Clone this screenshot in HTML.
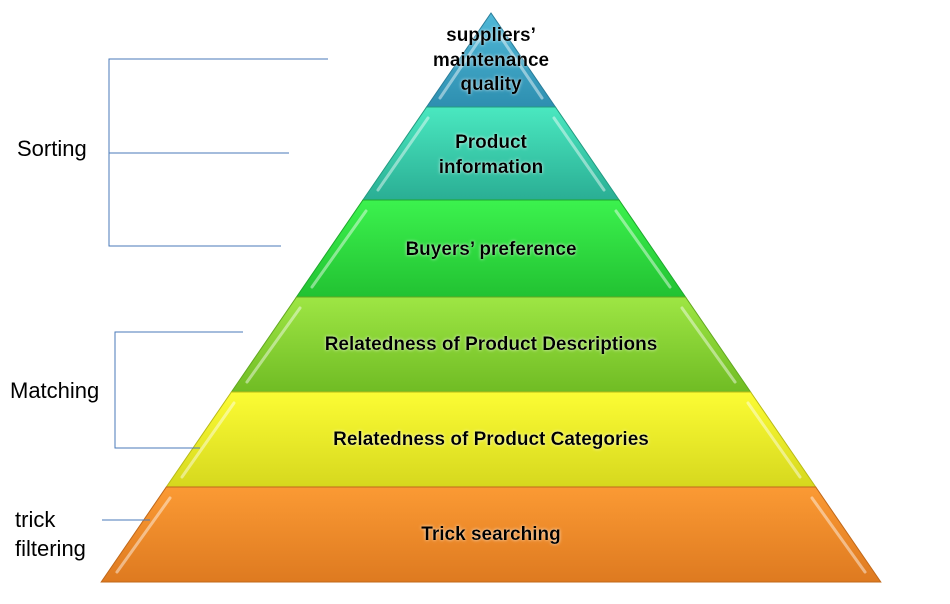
<!DOCTYPE html>
<html><head><style>
body{margin:0;background:#fff;width:950px;height:599px;overflow:hidden}
</style></head><body>
<svg width="950" height="599" xmlns="http://www.w3.org/2000/svg" font-family="Liberation Sans, sans-serif">
<defs>
<linearGradient id="g1" x1="0" y1="0" x2="0" y2="1"><stop offset="0" stop-color="#4fb8d8"/><stop offset="1" stop-color="#2e8fb0"/></linearGradient>
<linearGradient id="g2" x1="0" y1="0" x2="0" y2="1"><stop offset="0" stop-color="#4ae8c0"/><stop offset="1" stop-color="#2aae94"/></linearGradient>
<linearGradient id="g3" x1="0" y1="0" x2="0" y2="1"><stop offset="0" stop-color="#3cf24e"/><stop offset="1" stop-color="#22c232"/></linearGradient>
<linearGradient id="g4" x1="0" y1="0" x2="0" y2="1"><stop offset="0" stop-color="#9ee644"/><stop offset="1" stop-color="#70bc24"/></linearGradient>
<linearGradient id="g5" x1="0" y1="0" x2="0" y2="1"><stop offset="0" stop-color="#fcfc34"/><stop offset="1" stop-color="#d6d81e"/></linearGradient>
<linearGradient id="g6" x1="0" y1="0" x2="0" y2="1"><stop offset="0" stop-color="#fb9a34"/><stop offset="1" stop-color="#de7a20"/></linearGradient>
<filter id="glow"><feGaussianBlur stdDeviation="1.5" in="SourceAlpha" result="b"/><feFlood flood-color="#fff" flood-opacity="0.8"/><feComposite in2="b" operator="in"/><feMerge><feMergeNode/><feMergeNode in="SourceGraphic"/></feMerge></filter>
</defs>
<polygon points="491,13 555.4,107 426.6,107" fill="url(#g1)" stroke="#2a7d99" stroke-width="1"/>
<polygon points="426.6,107 555.4,107 619.1,200 362.9,200" fill="url(#g2)" stroke="#239a80" stroke-width="1"/>
<polygon points="362.9,200 619.1,200 685.5,297 296.5,297" fill="url(#g3)" stroke="#1ea82c" stroke-width="1"/>
<polygon points="296.5,297 685.5,297 750.6,392 231.4,392" fill="url(#g4)" stroke="#62a820" stroke-width="1"/>
<polygon points="231.4,392 750.6,392 815.7,487 166.3,487" fill="url(#g5)" stroke="#b8ba18" stroke-width="1"/>
<polygon points="166.3,487 815.7,487 880.8,582 101.2,582" fill="url(#g6)" stroke="#c0681a" stroke-width="1"/>
<g stroke="#fff" stroke-opacity="0.45" stroke-width="3" stroke-linecap="round">
<line x1="440" y1="98" x2="482" y2="36"/><line x1="378" y1="190" x2="428" y2="118"/><line x1="312" y1="287" x2="366" y2="211"/>
<line x1="247" y1="382" x2="300" y2="308"/><line x1="182" y1="477" x2="234" y2="403"/><line x1="117" y1="572" x2="170" y2="498"/>
<line x1="542" y1="98" x2="500" y2="36"/><line x1="604" y1="190" x2="554" y2="118"/><line x1="670" y1="287" x2="616" y2="211"/>
<line x1="735" y1="382" x2="682" y2="308"/><line x1="800" y1="477" x2="748" y2="403"/><line x1="865" y1="572" x2="812" y2="498"/>
</g>
<g font-weight="bold" font-size="19" text-anchor="middle" fill="#000" filter="url(#glow)">
<text x="491" y="41">suppliers’</text><text x="491" y="66">maintenance</text><text x="491" y="90">quality</text>
<text x="491" y="148">Product</text><text x="491" y="173">information</text>
<text x="491" y="255">Buyers’ preference</text>
<text x="491" y="350">Relatedness of Product Descriptions</text>
<text x="491" y="445">Relatedness of Product Categories</text>
<text x="491" y="540">Trick searching</text>
</g>
<g stroke="#4a7ab8" stroke-width="1" fill="none">
<polyline points="328,59 109,59 109,246 281,246"/><line x1="109" y1="153" x2="289" y2="153"/>
<polyline points="243,332 115,332 115,448 200,448"/>
<line x1="102" y1="520" x2="150" y2="520"/>
</g>
<g font-size="22" fill="#000">
<text x="17" y="156">Sorting</text><text x="10" y="398">Matching</text>
<text x="15" y="527">trick</text><text x="15" y="556">filtering</text>
</g>
</svg>
</body></html>
